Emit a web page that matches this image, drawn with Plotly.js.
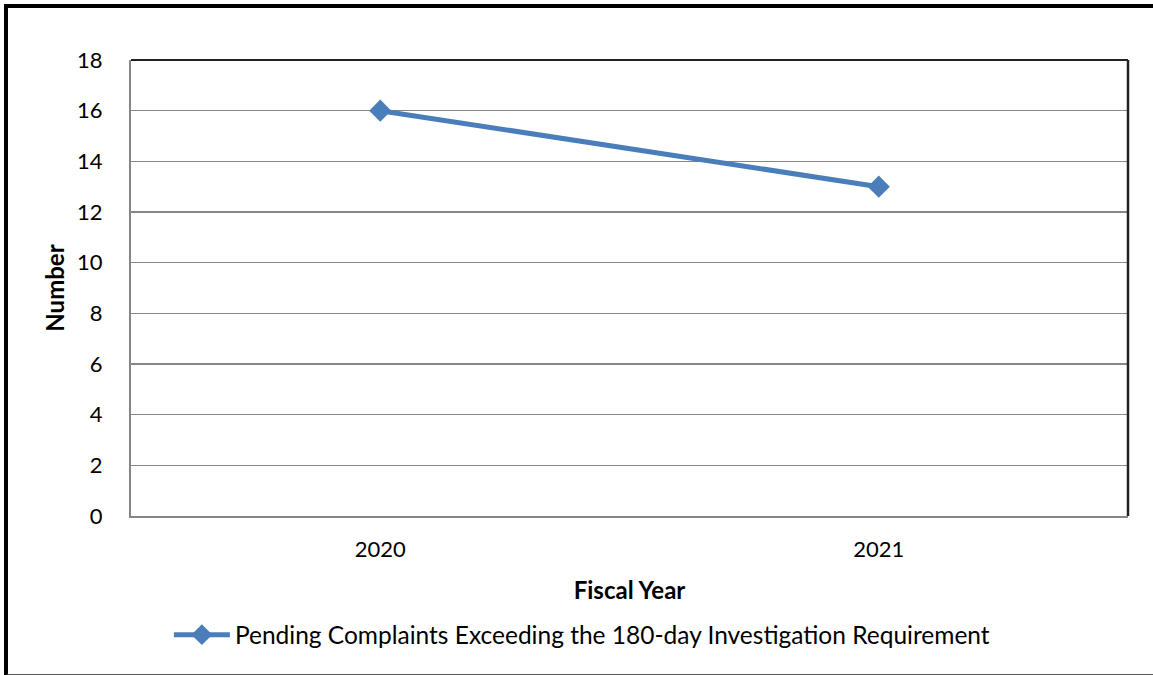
<!DOCTYPE html>
<html>
<head>
<meta charset="utf-8">
<script src="https://cdn.plot.ly/plotly-3.0.1.min.js"></script>
<style>
  html, body { margin: 0; padding: 0; background: #fff; }
  #wrap { position: relative; width: 1153px; height: 675px; overflow: hidden; }
  #chart { position: absolute; left: 0; top: 0; width: 1153px; height: 675px; }
  #frame { position: absolute; left: 4px; top: 4px; width: 1160px; height: 666px;
           border-left: 4px solid #000; border-top: 4px solid #000; border-bottom: 2px solid #555;
           pointer-events: none; }
</style>
</head>
<body>
<div id="wrap">
  <div id="chart"></div>
  <div id="frame"></div>
</div>
<script>
const categories = ["2020", "2021"];
const pendingComplaints = [16, 13];
const seriesName = "Pending Complaints Exceeding the 180-day Investigation Requirement";
const yTicks = [0, 2, 4, 6, 8, 10, 12, 14, 16, 18];

const FONT = "Lato, Open Sans, sans-serif";
const BLUE = "#4A7EBB";

const trace = {
  type: "scatter",
  mode: "lines+markers",
  x: categories,
  y: pendingComplaints,
  name: seriesName,
  line: { color: BLUE, width: 5 },
  marker: { symbol: "diamond", size: 17, color: BLUE }
};

const layout = {
  width: 1153,
  height: 675,
  margin: { l: 131, r: 25, t: 60, b: 159 },
  paper_bgcolor: "#ffffff",
  plot_bgcolor: "#ffffff",
  font: { family: FONT, size: 22, color: "#000" },
  showlegend: true,
  legend: {
    orientation: "h",
    x: 0.038, xanchor: "left",
    y: -0.211, yanchor: "top",
    itemwidth: 56,
    font: { family: FONT, size: 24.5, color: "#000" }
  },
  xaxis: {
    type: "category",
    range: [-0.5, 1.5],
    showgrid: false,
    showline: true,
    linecolor: "#868686",
    linewidth: 2,
    ticks: "",
    ticklabelstandoff: 13,
    tickfont: { family: FONT, size: 22 },
    title: { text: "<b>Fiscal Year</b>", font: { family: FONT, size: 24 }, standoff: 21 },
    zeroline: false,
    mirror: false
  },
  yaxis: {
    range: [0, 18],
    tickvals: yTicks,
    ticktext: yTicks.map(String),
    showgrid: true,
    gridcolor: "#868686",
    gridwidth: 1.5,
    showline: true,
    linecolor: "#868686",
    linewidth: 2,
    ticks: "",
    ticklabelstandoff: 22,
    tickfont: { family: FONT, size: 22 },
    title: { text: "<b>Number</b>", font: { family: FONT, size: 24 }, standoff: 6 },
    zeroline: false
  },
  shapes: [
    { type: "line", xref: "paper", yref: "paper", x0: 0, x1: 1, y0: 1, y1: 1,
      line: { color: "#222", width: 2 } },
    { type: "line", xref: "paper", yref: "paper", x0: 1, x1: 1, y0: 0, y1: 1,
      line: { color: "#222", width: 2.5 } }
  ]
};

Plotly.newPlot("chart", [trace], layout, { displayModeBar: false, staticPlot: true });
</script>
</body>
</html>
